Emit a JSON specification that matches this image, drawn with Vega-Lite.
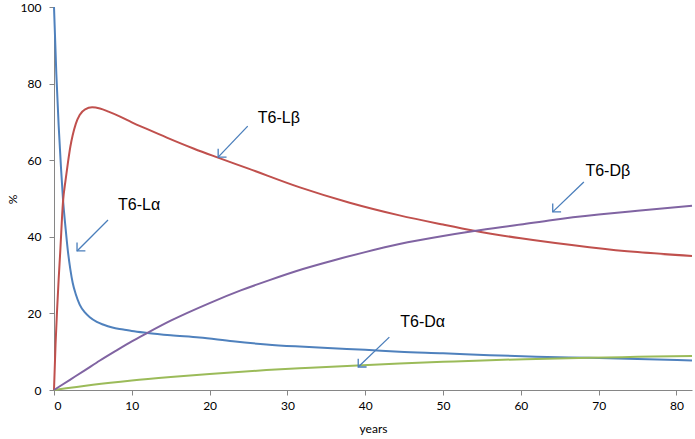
{
  "$schema": "https://vega.github.io/schema/vega-lite/v6.json",
  "autosize": {"type": "none"},
  "width": 638,
  "height": 383,
  "padding": {"left": 54, "top": 7, "right": 3, "bottom": 49},
  "background": "white",
  "config": {
    "view": {"stroke": null},
    "axis": {
      "grid": false,
      "domainColor": "#868686",
      "tickColor": "#868686",
      "tickSize": 5,
      "labelFont": "Lato",
      "labelFontSize": 12,
      "labelColor": "#000000",
      "titleFont": "Lato",
      "titleFontSize": 12,
      "titleFontWeight": "normal",
      "titleColor": "#000000"
    }
  },
  "datasets": {
    "curves": [
      {"s": "T6-Lα", "t": 0, "v": 100},
      {"s": "T6-Lα", "t": 0.3, "v": 82.5},
      {"s": "T6-Lα", "t": 0.6, "v": 69},
      {"s": "T6-Lα", "t": 0.9, "v": 58},
      {"s": "T6-Lα", "t": 1.15, "v": 50},
      {"s": "T6-Lα", "t": 1.5, "v": 42},
      {"s": "T6-Lα", "t": 1.8, "v": 36},
      {"s": "T6-Lα", "t": 2.1, "v": 31.5},
      {"s": "T6-Lα", "t": 2.4, "v": 28},
      {"s": "T6-Lα", "t": 2.8, "v": 25},
      {"s": "T6-Lα", "t": 3.3, "v": 22.3},
      {"s": "T6-Lα", "t": 4, "v": 20.2},
      {"s": "T6-Lα", "t": 4.6, "v": 19},
      {"s": "T6-Lα", "t": 5.5, "v": 17.8},
      {"s": "T6-Lα", "t": 6.3, "v": 17.1},
      {"s": "T6-Lα", "t": 7.5, "v": 16.3},
      {"s": "T6-Lα", "t": 8.9, "v": 15.8},
      {"s": "T6-Lα", "t": 10, "v": 15.4},
      {"s": "T6-Lα", "t": 12, "v": 14.9},
      {"s": "T6-Lα", "t": 15, "v": 14.3},
      {"s": "T6-Lα", "t": 18.7, "v": 13.7},
      {"s": "T6-Lα", "t": 23, "v": 12.7},
      {"s": "T6-Lα", "t": 27.3, "v": 11.9},
      {"s": "T6-Lα", "t": 31, "v": 11.4},
      {"s": "T6-Lα", "t": 35.8, "v": 10.9},
      {"s": "T6-Lα", "t": 40, "v": 10.5},
      {"s": "T6-Lα", "t": 44.4, "v": 10},
      {"s": "T6-Lα", "t": 50, "v": 9.6},
      {"s": "T6-Lα", "t": 56, "v": 9.1},
      {"s": "T6-Lα", "t": 62, "v": 8.7},
      {"s": "T6-Lα", "t": 68.8, "v": 8.4},
      {"s": "T6-Lα", "t": 75, "v": 8.1},
      {"s": "T6-Lα", "t": 82, "v": 7.7},

      {"s": "T6-Lβ", "t": 0, "v": 0},
      {"s": "T6-Lβ", "t": 0.2, "v": 12},
      {"s": "T6-Lβ", "t": 0.4, "v": 21},
      {"s": "T6-Lβ", "t": 0.6, "v": 29},
      {"s": "T6-Lβ", "t": 0.8, "v": 36},
      {"s": "T6-Lβ", "t": 1.15, "v": 49},
      {"s": "T6-Lβ", "t": 1.5, "v": 55},
      {"s": "T6-Lβ", "t": 1.8, "v": 59.5},
      {"s": "T6-Lβ", "t": 2.1, "v": 63.5},
      {"s": "T6-Lβ", "t": 2.4, "v": 66.5},
      {"s": "T6-Lβ", "t": 2.8, "v": 69.5},
      {"s": "T6-Lβ", "t": 3.3, "v": 71.8},
      {"s": "T6-Lβ", "t": 4, "v": 73.3},
      {"s": "T6-Lβ", "t": 4.9, "v": 73.8},
      {"s": "T6-Lβ", "t": 5.9, "v": 73.5},
      {"s": "T6-Lβ", "t": 7, "v": 72.7},
      {"s": "T6-Lβ", "t": 8.5, "v": 71.4},
      {"s": "T6-Lβ", "t": 10, "v": 69.9},
      {"s": "T6-Lβ", "t": 12, "v": 68.1},
      {"s": "T6-Lβ", "t": 14.5, "v": 65.9},
      {"s": "T6-Lβ", "t": 18, "v": 63.0},
      {"s": "T6-Lβ", "t": 20.9, "v": 60.8},
      {"s": "T6-Lβ", "t": 25, "v": 57.8},
      {"s": "T6-Lβ", "t": 31.6, "v": 52.9},
      {"s": "T6-Lβ", "t": 38, "v": 48.9},
      {"s": "T6-Lβ", "t": 44.4, "v": 45.6},
      {"s": "T6-Lβ", "t": 50, "v": 43.2},
      {"s": "T6-Lβ", "t": 54, "v": 41.6},
      {"s": "T6-Lβ", "t": 60, "v": 39.6},
      {"s": "T6-Lβ", "t": 68.8, "v": 37.3},
      {"s": "T6-Lβ", "t": 75, "v": 36.0},
      {"s": "T6-Lβ", "t": 82, "v": 35},

      {"s": "T6-Dα", "t": 0, "v": 0},
      {"s": "T6-Dα", "t": 5, "v": 1.4},
      {"s": "T6-Dα", "t": 10, "v": 2.5},
      {"s": "T6-Dα", "t": 15, "v": 3.4},
      {"s": "T6-Dα", "t": 20, "v": 4.2},
      {"s": "T6-Dα", "t": 27.3, "v": 5.2},
      {"s": "T6-Dα", "t": 33, "v": 5.8},
      {"s": "T6-Dα", "t": 39, "v": 6.4},
      {"s": "T6-Dα", "t": 44.4, "v": 6.9},
      {"s": "T6-Dα", "t": 50, "v": 7.35},
      {"s": "T6-Dα", "t": 56, "v": 7.8},
      {"s": "T6-Dα", "t": 62, "v": 8.1},
      {"s": "T6-Dα", "t": 68.8, "v": 8.4},
      {"s": "T6-Dα", "t": 75, "v": 8.65},
      {"s": "T6-Dα", "t": 82, "v": 8.9},

      {"s": "T6-Dβ", "t": 0, "v": 0},
      {"s": "T6-Dβ", "t": 2, "v": 2.6},
      {"s": "T6-Dβ", "t": 4, "v": 5.2},
      {"s": "T6-Dβ", "t": 5.9, "v": 7.7},
      {"s": "T6-Dβ", "t": 8, "v": 10.3},
      {"s": "T6-Dβ", "t": 10, "v": 12.7},
      {"s": "T6-Dβ", "t": 11.9, "v": 14.8},
      {"s": "T6-Dβ", "t": 15, "v": 18.1},
      {"s": "T6-Dβ", "t": 20, "v": 22.7},
      {"s": "T6-Dβ", "t": 24, "v": 26},
      {"s": "T6-Dβ", "t": 27.7, "v": 28.7},
      {"s": "T6-Dβ", "t": 32, "v": 31.6},
      {"s": "T6-Dβ", "t": 36, "v": 33.9},
      {"s": "T6-Dβ", "t": 40, "v": 36},
      {"s": "T6-Dβ", "t": 44.4, "v": 38.1},
      {"s": "T6-Dβ", "t": 50, "v": 40.2},
      {"s": "T6-Dβ", "t": 54, "v": 41.5},
      {"s": "T6-Dβ", "t": 60, "v": 43.2},
      {"s": "T6-Dβ", "t": 64.1, "v": 44.4},
      {"s": "T6-Dβ", "t": 70, "v": 45.8},
      {"s": "T6-Dβ", "t": 75, "v": 46.8},
      {"s": "T6-Dβ", "t": 82, "v": 48.1}
    ],
    "labels": [
      {"label": "T6-Lα", "t": 8.23, "v": 48.3, "t0": 6.94, "v0": 44.4, "t1": 2.96, "v1": 36.3},
      {"label": "T6-Lβ", "t": 26.2, "v": 71.0, "t0": 24.9, "v0": 68.9, "t1": 21.1, "v1": 60.8},
      {"label": "T6-Dβ", "t": 68.3, "v": 57.2, "t0": 68.1, "v0": 54.3, "t1": 64.1, "v1": 46.5},
      {"label": "T6-Dα", "t": 44.5, "v": 17.8, "t0": 43.1, "v0": 13.8, "t1": 39.1, "v1": 6.0}
    ]
  },
  "layer": [
    {
      "data": {"name": "curves"},
      "mark": {"type": "line", "strokeWidth": 2, "interpolate": "monotone"},
      "encoding": {
        "x": {
          "field": "t", "type": "quantitative",
          "scale": {"domain": [0, 82], "nice": false},
          "axis": {"title": "years", "values": [0, 10, 20, 30, 40, 50, 60, 70, 80], "labelPadding": 5, "titleX": 319, "titleY": 38, "titleBaseline": "middle", "titleAlign": "center"}
        },
        "y": {
          "field": "v", "type": "quantitative",
          "scale": {"domain": [0, 100], "nice": false},
          "axis": {"title": "%", "values": [0, 20, 40, 60, 80, 100], "labelPadding": 8, "titleX": -42, "titleY": 192, "titleAngle": -90, "titleBaseline": "middle", "titleAlign": "center"}
        },
        "color": {
          "field": "s", "type": "nominal", "legend": null,
          "scale": {"domain": ["T6-Lα", "T6-Lβ", "T6-Dα", "T6-Dβ"], "range": ["#4F81BD", "#C0504D", "#9BBB59", "#8064A2"]}
        }
      }
    },
    {
      "data": {"name": "labels"},
      "mark": {"type": "rule", "color": "#4A7EBB", "strokeWidth": 1.3},
      "encoding": {
        "x": {"field": "t0", "type": "quantitative"},
        "y": {"field": "v0", "type": "quantitative"},
        "x2": {"field": "t1"},
        "y2": {"field": "v1"}
      }
    },
    {
      "data": {"name": "labels"},
      "mark": {"type": "point", "shape": "M0,-1L0,0L1,0", "filled": false, "color": "#4A7EBB", "strokeWidth": 1.3, "size": 280, "opacity": 1},
      "encoding": {
        "x": {"field": "t1", "type": "quantitative"},
        "y": {"field": "v1", "type": "quantitative"}
      }
    },
    {
      "data": {"name": "labels"},
      "mark": {"type": "text", "font": "Liberation Sans", "fontSize": 16, "align": "left", "baseline": "middle", "color": "#000000"},
      "encoding": {
        "x": {"field": "t", "type": "quantitative"},
        "y": {"field": "v", "type": "quantitative"},
        "text": {"field": "label"}
      }
    }
  ]
}
